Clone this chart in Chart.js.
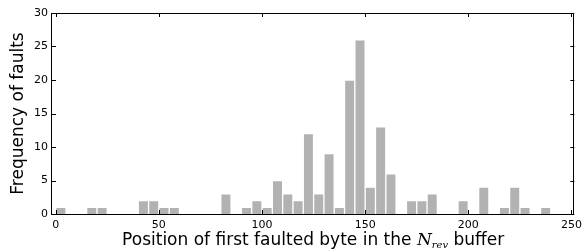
<!DOCTYPE html>
<html lang="en">
  <head>
    <meta charset="UTF-8" />
    <title>Faulted byte positions</title>
    <style>
      body {
        margin: 0;
        background-color: #ffffff;
      }
      #wrap {
        width: 587px;
        height: 252px;
      }
    </style>
  </head>
  <body>
    <div id="wrap">
      <canvas id="hist" width="587" height="252"></canvas>
    </div>

    <script src="https://cdn.jsdelivr.net/npm/chart.js"></script>
    <script>
      // histogram bins (left edge of each 5-byte bin) and counts
      var binStarts = [
        0, 5, 10, 15, 20, 25, 30, 35, 40, 45, 50, 55, 60, 65, 70, 75, 80, 85, 90, 95,
        100, 105, 110, 115, 120, 125, 130, 135, 140, 145, 150, 155, 160, 165, 170, 175,
        180, 185, 190, 195, 200, 205, 210, 215, 220, 225, 230, 235, 240, 245,
      ];
      var faultCounts = [
        1, 0, 0, 1, 1, 0, 0, 0, 2, 2, 1, 1, 0, 0, 0, 0, 3, 0, 1, 2,
        1, 5, 3, 2, 12, 3, 9, 1, 20, 26, 4, 13, 6, 0, 2, 2,
        3, 0, 0, 2, 0, 4, 0, 1, 4, 1, 0, 1, 0, 0,
      ];
      var binWidth = 5;
      var xTicks = [0, 50, 100, 150, 200, 250];
      var yTicks = [0, 5, 10, 15, 20, 25, 30];

      var tickFont = { family: "DejaVu Sans", size: 11 };
      var labelFont = "17px 'DejaVu Sans'";

      var points = binStarts.map(function (b, i) {
        return { x: b + binWidth / 2, y: faultCounts[i] };
      });

      // matplotlib-like frame: full box, inward ticks on all four sides, axis labels
      var frame = {
        id: "frame",
        afterDraw: function (chart) {
          var ctx = chart.ctx;
          var a = chart.chartArea;
          var xs = chart.scales.x;
          var ys = chart.scales.y;
          var len = 4;
          ctx.save();
          ctx.strokeStyle = "#000";
          ctx.lineWidth = 1;
          ctx.strokeRect(Math.round(a.left) - 0.5, Math.round(a.top) + 0.5,
            Math.round(a.right - a.left), Math.round(a.bottom - a.top));
          ctx.beginPath();
          xTicks.forEach(function (v) {
            var px = Math.round(xs.getPixelForValue(v)) + 0.5;
            ctx.moveTo(px, a.bottom);
            ctx.lineTo(px, a.bottom - len);
            ctx.moveTo(px, a.top);
            ctx.lineTo(px, a.top + len);
          });
          yTicks.forEach(function (v) {
            var py = Math.round(ys.getPixelForValue(v)) + 0.5;
            ctx.moveTo(a.left, py);
            ctx.lineTo(a.left + len, py);
            ctx.moveTo(a.right, py);
            ctx.lineTo(a.right - len, py);
          });
          ctx.stroke();

          // y axis label
          ctx.fillStyle = "#000";
          ctx.font = labelFont;
          ctx.textAlign = "center";
          ctx.textBaseline = "middle";
          ctx.translate(19, (a.top + a.bottom) / 2);
          ctx.rotate(-Math.PI / 2);
          ctx.fillText("Frequency of faults", 0, 0);
          ctx.setTransform(1, 0, 0, 1, 0, 0);

          // x axis label with math-style N_rev
          var parts = [
            { t: "Position of first faulted byte in the ", f: labelFont, dy: 0 },
            { t: "N", f: "italic 17px 'DejaVu Serif'", dy: 0 },
            { t: "rev", f: "italic 10px 'DejaVu Serif'", dy: 3 },
            { t: " buffer", f: labelFont, dy: 0 },
          ];
          var total = 0;
          parts.forEach(function (p) {
            ctx.font = p.f;
            p.w = ctx.measureText(p.t).width;
            total += p.w;
          });
          var x = (a.left + a.right) / 2 - total / 2;
          var base = 245;
          ctx.textAlign = "left";
          ctx.textBaseline = "alphabetic";
          parts.forEach(function (p) {
            ctx.font = p.f;
            ctx.fillText(p.t, x, base + p.dy);
            x += p.w;
          });
          ctx.restore();
        },
      };

      var ctx = document.getElementById("hist").getContext("2d");
      var hist = new Chart(ctx, {
        type: "bar",
        data: {
          datasets: [
            {
              label: "faults",
              data: points,
              backgroundColor: "#b2b2b2",
              borderColor: "#ffffff",
              borderWidth: 1,
              barPercentage: 1,
              categoryPercentage: 1,
            },
          ],
        },
        options: {
          responsive: false,
          animation: false,
          devicePixelRatio: 1,
          layout: { padding: { top: 13, right: 6, left: 0, bottom: 0 } },
          plugins: {
            legend: { display: false },
            tooltip: { enabled: false },
          },
          scales: {
            x: {
              type: "linear",
              min: -1.8,
              max: 251.4,
              offset: false,
              grid: { display: false, drawTicks: false },
              border: { display: false },
              afterBuildTicks: function (scale) {
                scale.ticks = xTicks.map(function (v) { return { value: v }; });
              },
              afterFit: function (scale) {
                scale.height = 38;
              },
              ticks: {
                font: tickFont,
                color: "#000",
                padding: 5,
                maxRotation: 0,
                autoSkip: false,
              },
            },
            y: {
              min: 0,
              max: 30,
              grid: { display: false, drawTicks: false },
              border: { display: false },
              afterBuildTicks: function (scale) {
                scale.ticks = yTicks.map(function (v) { return { value: v }; });
              },
              afterFit: function (scale) {
                scale.width = 52;
              },
              ticks: {
                font: tickFont,
                color: "#000",
                padding: 4,
              },
            },
          },
        },
        plugins: [frame],
      });
    </script>
  </body>
</html>
